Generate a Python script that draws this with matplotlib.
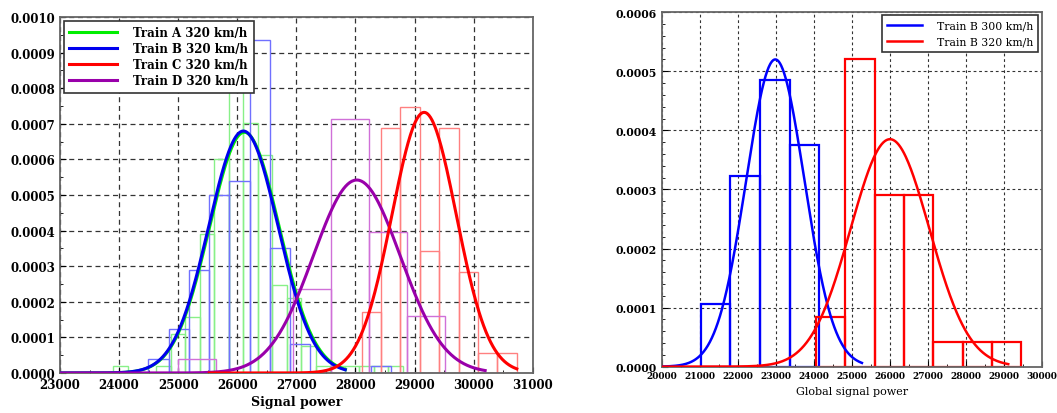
import numpy as np
import matplotlib
matplotlib.use('Agg')
import matplotlib.pyplot as plt
from matplotlib.ticker import MultipleLocator, FormatStrFormatter

####### Data

# left panel : histograms (bin start, bin width, densities)
a_start, a_width = 23897, 245
a_dens = [0.000021, 0, 0, 0.000021, 0.00011, 0.000157, 0.00039, 0.0006, 0.00081,
          0.000702, 0.000613, 0.000246, 0.00021, 0.000077, 0.000021, 0.000021,
          0.000021, 0.000021, 0.000021, 0.000021]

b_start, b_width = 24493, 343
b_dens = [0.00004, 0.000124, 0.00029, 0.0005, 0.00054, 0.000935, 0.000351,
          0.000082, 0, 0, 0, 0.000021]

c_start, c_width = 28106, 328
c_dens = [0.000171, 0.000688, 0.000746, 0.000344, 0.000688, 0.000285,
          0.000057, 0.000057]

d_start, d_width = 25000, 645
d_dens = [0.00004, 0, 0, 0.000235, 0.000714, 0.000396, 0.000159]

# left panel : fitted normal curves
left_names = ['Train A 320 km/h', 'Train B 320 km/h', 'Train C 320 km/h', 'Train D 320 km/h']
left_mu = [26120, 26103, 29162, 28022]
left_sigma = [590, 587, 545, 736]
left_from = [23000, 23000, 25525, 23000]
left_to = [27830, 27826, 30730, 30195]

# right panel
rb_start, rb_width = 21030, 780
rb_dens = [0.000106, 0.000322, 0.000485, 0.000376]
rr_start, rr_width = 24060, 772
rr_dens = [0.0000836, 0.00052, 0.00029, 0.00029, 0.000041, 0.000041, 0.000041]

right_names = ['Train B 300 km/h', 'Train B 320 km/h']
right_mu = [22990, 26008]
right_sigma = [767, 1036]
right_from = [20000, 20000]
right_to = [25270, 29120]


def gauss(x, mu, s):
    return np.exp(-0.5 * ((x - mu) / s) ** 2) / (s * np.sqrt(2 * np.pi))


def hist_bars(ax, start, width, dens, color, lw):
    left = start + width * np.arange(len(dens))
    ax.bar(left, dens, width=width, align='edge', fill=False,
           edgecolor=color, linewidth=lw, zorder=2)


plt.rcParams['font.family'] = ['DejaVu Serif']

fig = plt.figure(figsize=(10.57, 4.14), dpi=100)
ax1 = fig.add_axes([0.0568, 0.0966, 0.4472, 0.86])
ax2 = fig.add_axes([0.626, 0.112, 0.3595, 0.856])

####### Left panel

hist_bars(ax1, a_start, a_width, a_dens, '#88f088', 1.0)
hist_bars(ax1, b_start, b_width, b_dens, '#7070ff', 1.0)
hist_bars(ax1, c_start, c_width, c_dens, '#ff8080', 1.0)
hist_bars(ax1, d_start, d_width, d_dens, '#d070d8', 1.0)

curve_cols = ['#00ee00', '#0000ee', '#ff0000', '#9900aa']
order = [0, 1, 3, 2]
lines = {}
for i in order:
    x = np.linspace(left_from[i], left_to[i], 400)
    lines[i], = ax1.plot(x, gauss(x, left_mu[i], left_sigma[i]), color=curve_cols[i],
                         lw=2.2, zorder=3, label=left_names[i])

ax1.set_xlim(23000, 31000)
ax1.set_ylim(0, 0.0010)
ax1.xaxis.set_major_locator(MultipleLocator(1000))
ax1.xaxis.set_minor_locator(MultipleLocator(500))
ax1.yaxis.set_major_locator(MultipleLocator(0.0001))
ax1.yaxis.set_minor_locator(MultipleLocator(0.00005))
ax1.yaxis.set_major_formatter(FormatStrFormatter('%.4f'))
ax1.grid(True, which='major', color='#333333', linestyle=(0, (4, 3)), linewidth=0.9)
ax1.tick_params(which='both', direction='in', labelsize=8.5, length=4)
ax1.tick_params(which='minor', length=2.5)
for lab in ax1.get_xticklabels() + ax1.get_yticklabels():
    lab.set_fontweight('bold')
for sp in ax1.spines.values():
    sp.set_color('#666666')
    sp.set_linewidth(1.3)
ax1.set_xlabel('Signal power', fontsize=9, fontweight='bold', labelpad=3)

leg1 = ax1.legend(handles=[lines[0], lines[1], lines[2], lines[3]], loc='upper left',
                  prop={'size': 8.5, 'weight': 'bold'}, fancybox=False,
                  edgecolor='#333333', framealpha=1, borderaxespad=0.35,
                  handlelength=4.0, labelspacing=0.25, borderpad=0.45, handletextpad=1.4)
leg1.get_frame().set_linewidth(1.2)

####### Right panel

hist_bars(ax2, rb_start, rb_width, rb_dens, '#0000ff', 1.6)
hist_bars(ax2, rr_start, rr_width, rr_dens, '#ff0000', 1.6)

right_cols = ['#0000ff', '#ff0000']
rl = []
for i in range(2):
    x = np.linspace(right_from[i], right_to[i], 400)
    l, = ax2.plot(x, gauss(x, right_mu[i], right_sigma[i]), color=right_cols[i],
                  lw=1.8, zorder=3, label=right_names[i])
    rl.append(l)

ax2.set_xlim(20000, 30000)
ax2.set_ylim(0, 0.0006)
ax2.xaxis.set_major_locator(MultipleLocator(1000))
ax2.xaxis.set_minor_locator(MultipleLocator(500))
ax2.yaxis.set_major_locator(MultipleLocator(0.0001))
ax2.yaxis.set_minor_locator(MultipleLocator(0.00002))
ax2.yaxis.set_major_formatter(FormatStrFormatter('%.4f'))
ax2.grid(True, which='major', color='#333333', linestyle=(0, (2.5, 2.5)), linewidth=0.8)
ax2.tick_params(which='both', direction='in', length=4)
ax2.tick_params(which='minor', length=2.5)
ax2.tick_params(axis='x', labelsize=6.5)
ax2.tick_params(axis='y', labelsize=7.8)
for lab in ax2.get_xticklabels() + ax2.get_yticklabels():
    lab.set_fontweight('bold')
for sp in ax2.spines.values():
    sp.set_color('#666666')
    sp.set_linewidth(1.3)
ax2.set_xlabel('Global signal power', fontsize=8, labelpad=4)

leg2 = ax2.legend(handles=rl, loc='upper right', prop={'size': 7.8},
                  fancybox=False, edgecolor='#333333', framealpha=1,
                  borderaxespad=0.3, handlelength=3.2, labelspacing=0.55,
                  borderpad=0.5, handletextpad=1.4)
leg2.get_frame().set_linewidth(1.2)

fig.savefig('out.png', dpi=100)
